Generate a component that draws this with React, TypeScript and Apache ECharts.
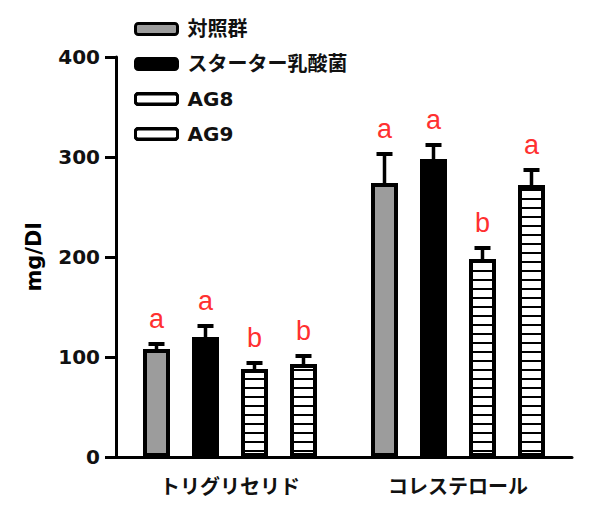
import React, { useEffect, useRef } from "react";
import * as echarts from "echarts";

const categories = ["トリグリセリド", "コレステロール"];
const seriesNames = ["対照群", "スターター乳酸菌", "AG8", "AG9"];
const controlValues = [108, 274];
const starterValues = [120, 298];
const ag8Values = [88, 198];
const ag9Values = [93, 272];
const controlErrors = [5, 29];
const starterErrors = [11, 14];
const ag8Errors = [6, 11];
const ag9Errors = [8, 15];
const controlLetters = ["a", "a"];
const starterLetters = ["a", "a"];
const ag8Letters = ["b", "b"];
const ag9Letters = ["b", "a"];
const yTicks = [0, 100, 200, 300, 400];

const allValues = [controlValues, starterValues, ag8Values, ag9Values];
const allErrors = [controlErrors, starterErrors, ag8Errors, ag9Errors];
const allLetters = [controlLetters, starterLetters, ag8Letters, ag9Letters];

const BAR_W = 27;
const SPACING = 49;
const LATIN = "'DejaVu Sans', 'Noto Sans CJK JP', sans-serif";

const stripeDecal = {
  symbol: "rect",
  symbolSize: 1,
  dashArrayX: [[8, 0]],
  dashArrayY: [2, 7],
  rotation: 0,
  color: "#000",
};

export default function App() {
  const ref = useRef<HTMLDivElement>(null);
  useEffect(() => {
    document.body.style.margin = "0";
    const chart = echarts.init(ref.current!, null, { renderer: "svg" });
    const fills = ["#9c9c9c", "#000", "#fff", "#fff"];
    const barSeries = seriesNames.map((name, i) => ({
      name,
      type: "bar",
      data: allValues[i],
      barWidth: BAR_W,
      barGap: `${((SPACING - BAR_W) / BAR_W) * 100}%`,
      itemStyle: {
        color: fills[i],
        borderColor: "#000",
        borderWidth: 4,
        decal: i >= 2 ? stripeDecal : undefined,
      },
      z: 2,
    }));
    const errData: any[] = [];
    const errLabels: string[] = [];
    allValues.forEach((vals, s) => {
      vals.forEach((v, c) => {
        errData.push([c, v, allErrors[s][c], s]);
        errLabels.push(allLetters[s][c]);
      });
    });
    const errSeries = {
      type: "custom",
      data: errData,
      z: 5,
      silent: true,
      renderItem: (params: any, api: any) => {
        const c = api.value(0);
        const v = api.value(1);
        const e = api.value(2);
        const s = api.value(3);
        const base = api.coord([c, v]);
        const top = api.coord([c, v + e]);
        const x = base[0] + (s - 1.5) * SPACING;
        return {
          type: "group",
          children: [
            {
              type: "line",
              shape: { x1: x, y1: base[1], x2: x, y2: top[1] },
              style: { stroke: "#000", lineWidth: 3.5 },
            },
            {
              type: "line",
              shape: { x1: x - 8, y1: top[1], x2: x + 8, y2: top[1] },
              style: { stroke: "#000", lineWidth: 4 },
            },
            {
              type: "text",
              x,
              y: top[1] - 25,
              style: {
                text: errLabels[params.dataIndex],
                fill: "#ff3030",
                font: "27px 'Liberation Sans', Arial, sans-serif",
                align: "center",
                verticalAlign: "middle",
              },
            },
          ],
        };
      },
    };
    chart.setOption({
      animation: false,
      grid: { left: 116, right: 18, top: 57, bottom: 56, outerBoundsMode: "none" },
      legend: {
        orient: "vertical",
        left: 129,
        top: 14,
        itemWidth: 42,
        itemHeight: 11,
        itemGap: 15,
        data: seriesNames.map((n) => ({ name: n })),
        itemStyle: { borderWidth: 3, borderColor: "#000" },
        textStyle: {
          fontFamily: LATIN,
          fontWeight: "bold",
          fontSize: 20,
          color: "#111",
          padding: [0, 0, 0, 5],
        },
        selectedMode: false,
      },
      xAxis: {
        type: "category",
        data: categories,
        axisLine: { lineStyle: { color: "#000", width: 3 } },
        axisTick: { alignWithLabel: true, length: 8, lineStyle: { color: "#000", width: 3 } },
        axisLabel: {
          margin: 18,
          fontFamily: "'Noto Sans CJK JP', sans-serif",
          fontWeight: "bold",
          fontSize: 20,
          color: "#111",
        },
      },
      yAxis: {
        type: "value",
        min: yTicks[0],
        max: yTicks[yTicks.length - 1],
        interval: 100,
        name: "mg/Dl",
        nameLocation: "middle",
        nameGap: 72,
        nameTextStyle: { fontFamily: LATIN, fontWeight: "bold", fontSize: 21, color: "#000" },
        axisLine: { show: true, lineStyle: { color: "#000", width: 3 } },
        axisTick: { show: true, length: 11, lineStyle: { color: "#000", width: 3 } },
        splitLine: { show: false },
        axisLabel: {
          margin: 16,
          fontFamily: LATIN,
          fontWeight: "bold",
          fontSize: 20,
          color: "#111",
        },
      },
      series: [...barSeries, errSeries],
    });
    return () => chart.dispose();
  }, []);
  return <div ref={ref} style={{ width: 590, height: 513 }} />;
}
